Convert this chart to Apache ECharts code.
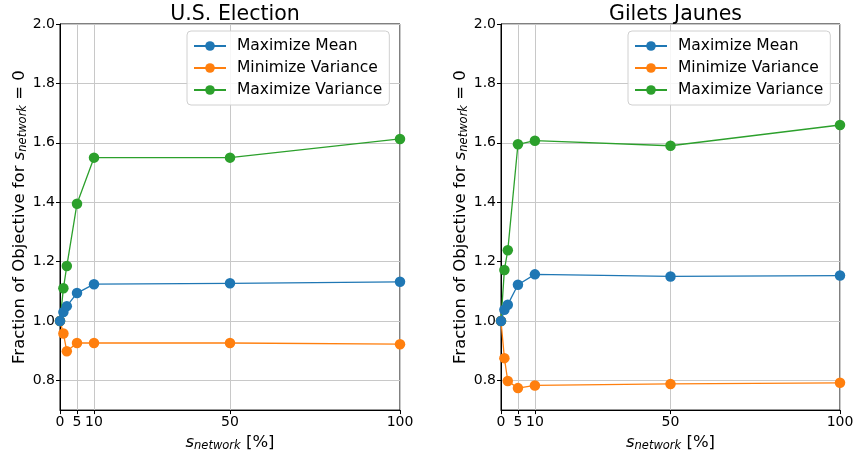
<!DOCTYPE html>
<html>
<head>
<meta charset="utf-8">
<script src="https://cdn.jsdelivr.net/npm/echarts@6/dist/echarts.min.js"></script>
<style>
  html, body { margin: 0; padding: 0; background: #fff; }
  #chart { width: 867px; height: 457px; }
</style>
</head>
<body>
<div id="chart"></div>
<script>
// data
var xVals = [0, 1, 2, 5, 10, 50, 100];
var xTicks = [0, 5, 10, 50, 100];
var yTicks = [0.8, 1.0, 1.2, 1.4, 1.6, 1.8, 2.0];
var seriesNames = ['Maximize Mean', 'Minimize Variance', 'Maximize Variance'];
var titles = ['U.S. Election', 'Gilets Jaunes'];

// U.S. Election
var usMean    = [1.0, 1.03, 1.05, 1.094, 1.124, 1.127, 1.132];
var usMinVar  = [1.0, 0.958, 0.898, 0.926, 0.926, 0.926, 0.922];
var usMaxVar  = [1.0, 1.11, 1.185, 1.395, 1.55, 1.55, 1.613];
// Gilets Jaunes
var gjMean    = [1.0, 1.038, 1.055, 1.122, 1.157, 1.15, 1.153];
var gjMinVar  = [1.0, 0.875, 0.798, 0.774, 0.783, 0.788, 0.792];
var gjMaxVar  = [1.0, 1.172, 1.238, 1.595, 1.607, 1.59, 1.66];

var colors = ['#1f77b4', '#ff7f0e', '#2ca02c'];
var font = 'DejaVu Sans';

function pairs(ys) {
	var out = [];
	for (var i = 0; i < xVals.length; i++) {
		out.push([xVals[i], ys[i]]);
	}
	return out;
}

var grids = [
	{left: 60, top: 24, width: 340, height: 387},
	{left: 501, top: 24, width: 339, height: 387}
];

var xAxes = [], yAxes = [], legends = [], titleList = [];
for (var g = 0; g < 2; g++) {
	grids[g].show = true;
	grids[g].borderColor = '#000';
	grids[g].borderWidth = 1;
	grids[g].backgroundColor = '#fff';

	xAxes.push({
		gridIndex: g,
		type: 'value',
		min: 0,
		max: 100,
		name: '{i|s}{sub|network}{n| [%]}',
		nameLocation: 'middle',
		nameGap: 22,
		nameTextStyle: {
			rich: {
				i: {fontFamily: font, fontSize: 16.5, fontStyle: 'italic', color: '#000'},
				sub: {fontFamily: font, fontSize: 11.5, fontStyle: 'italic', color: '#000', padding: [7, 0, 0, 0]},
				n: {fontFamily: font, fontSize: 16.5, color: '#000'}
			}
		},
		axisLine: {show: true, lineStyle: {color: '#000', width: 1}},
		axisTick: {show: true, length: 4, customValues: xTicks, lineStyle: {color: '#000'}},
		axisLabel: {customValues: xTicks, fontFamily: font, fontSize: 14, color: '#000', margin: 5},
		splitLine: {show: true, lineStyle: {color: '#c8c8c8', width: 1}}
	});

	yAxes.push({
		gridIndex: g,
		type: 'value',
		min: 0.7,
		max: 2.0,
		name: '{n|Fraction of Objective for }{i|s}{sub|network}{n| = 0}',
		nameLocation: 'middle',
		nameRotate: 90,
		nameGap: 31,
		nameTextStyle: {
			rich: {
				n: {fontFamily: font, fontSize: 16.5, color: '#000'},
				i: {fontFamily: font, fontSize: 16.5, fontStyle: 'italic', color: '#000'},
				sub: {fontFamily: font, fontSize: 11.5, fontStyle: 'italic', color: '#000', padding: [7, 0, 0, 0]}
			}
		},
		axisLine: {show: true, lineStyle: {color: '#000', width: 1}},
		axisTick: {show: true, length: 4, customValues: yTicks, lineStyle: {color: '#000'}},
		axisLabel: {
			customValues: yTicks,
			fontFamily: font, fontSize: 14, color: '#000', margin: 5,
			formatter: function(v) { return v.toFixed(1); }
		},
		splitLine: {show: true, lineStyle: {color: '#c8c8c8', width: 1}}
	});

	legends.push({
		data: seriesNames,
		orient: 'vertical',
		left: g == 0 ? 187 : 628,
		top: 31,
		itemWidth: 32,
		itemHeight: 12,
		itemGap: 4,
		padding: [6, 7, 6, 6],
		backgroundColor: 'rgba(255,255,255,0.85)',
		borderColor: '#d0d0d0',
		borderWidth: 1,
		borderRadius: 4,
		textStyle: {fontFamily: font, fontSize: 15.5, color: '#000', padding: [0, 0, 0, 6], lineHeight: 18}
	});

	titleList.push({
		text: titles[g],
		left: grids[g].left + grids[g].width / 2,
		textAlign: 'center',
		top: -1,
		textStyle: {fontFamily: font, fontSize: 20.5, fontWeight: 'normal', color: '#000'}
	});
}

var dataSets = [[usMean, usMinVar, usMaxVar], [gjMean, gjMinVar, gjMaxVar]];
var series = [];
for (var g = 0; g < 2; g++) {
	for (var s = 0; s < 3; s++) {
		series.push({
			name: seriesNames[s],
			type: 'line',
			xAxisIndex: g,
			yAxisIndex: g,
			data: pairs(dataSets[g][s]),
			symbol: 'circle',
			symbolSize: 10.5,
			showSymbol: true,
			itemStyle: {color: colors[s]},
			lineStyle: {color: colors[s], width: 1.3},
			z: 2 + (2 - s),
			animation: false
		});
	}
}

var option = {
	animation: false,
	color: colors,
	title: titleList,
	legend: legends,
	grid: grids,
	xAxis: xAxes,
	yAxis: yAxes,
	series: series
};

var myChart = echarts.init(document.getElementById('chart'));
myChart.setOption(option);
</script>
</body>
</html>
